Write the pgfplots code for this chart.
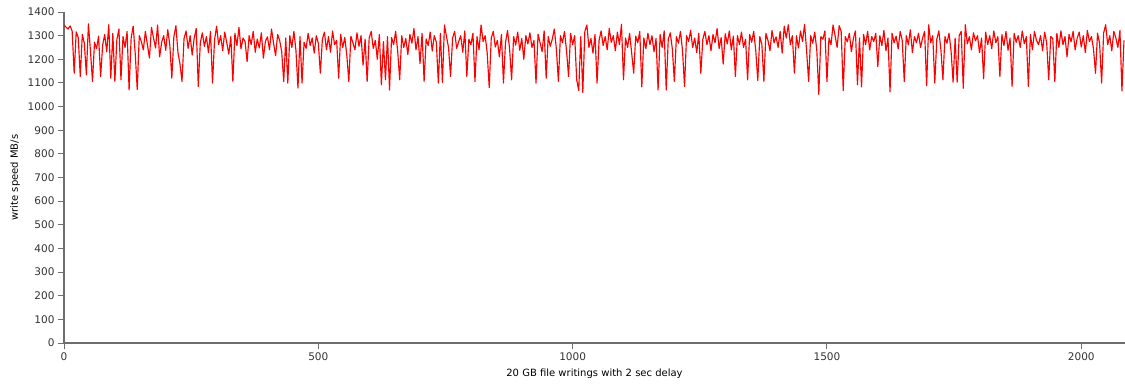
\documentclass[border=0pt]{standalone}
\usepackage{pgfplots}
\usepackage{pgfplotstable}
\pgfplotsset{compat=1.18}
\usepackage{fontspec}
\setmainfont{DejaVu Sans}
\definecolor{axgray}{HTML}{6E6E6E}
\definecolor{lblgray}{HTML}{333333}
\pgfplotstableread[row sep=\\]{
y\\
1345\\ 1336\\ 1328\\ 1341\\ 1320\\ 1141\\ 1316\\ 1292\\ 1127\\ 1305\\
1268\\ 1134\\ 1350\\ 1236\\ 1106\\ 1272\\ 1245\\ 1298\\ 1127\\ 1260\\
1305\\ 1232\\ 1346\\ 1120\\ 1310\\ 1106\\ 1285\\ 1328\\ 1113\\ 1296\\
1250\\ 1318\\ 1070\\ 1290\\ 1340\\ 1225\\ 1072\\ 1300\\ 1275\\ 1240\\
1318\\ 1262\\ 1205\\ 1335\\ 1290\\ 1248\\ 1345\\ 1210\\ 1272\\ 1300\\
1238\\ 1325\\ 1260\\ 1120\\ 1295\\ 1342\\ 1230\\ 1180\\ 1106\\ 1288\\
1320\\ 1246\\ 1300\\ 1218\\ 1290\\ 1330\\ 1085\\ 1270\\ 1312\\ 1255\\
1296\\ 1228\\ 1318\\ 1099\\ 1282\\ 1340\\ 1262\\ 1300\\ 1236\\ 1315\\
1270\\ 1222\\ 1296\\ 1106\\ 1310\\ 1258\\ 1335\\ 1244\\ 1290\\ 1275\\
1190\\ 1300\\ 1262\\ 1318\\ 1230\\ 1286\\ 1248\\ 1312\\ 1205\\ 1276\\
1295\\ 1240\\ 1328\\ 1268\\ 1215\\ 1305\\ 1280\\ 1232\\ 1106\\ 1290\\
1099\\ 1300\\ 1250\\ 1318\\ 1238\\ 1078\\ 1296\\ 1099\\ 1272\\ 1246\\
1310\\ 1258\\ 1290\\ 1226\\ 1300\\ 1268\\ 1141\\ 1285\\ 1315\\ 1240\\
1296\\ 1230\\ 1320\\ 1262\\ 1280\\ 1120\\ 1305\\ 1250\\ 1292\\ 1218\\
1106\\ 1298\\ 1270\\ 1240\\ 1312\\ 1255\\ 1300\\ 1175\\ 1285\\ 1106\\
1290\\ 1318\\ 1246\\ 1280\\ 1200\\ 1305\\ 1092\\ 1275\\ 1113\\ 1296\\
1070\\ 1292\\ 1262\\ 1318\\ 1236\\ 1113\\ 1300\\ 1250\\ 1288\\ 1220\\
1305\\ 1268\\ 1330\\ 1240\\ 1296\\ 1182\\ 1310\\ 1106\\ 1286\\ 1258\\
1315\\ 1235\\ 1300\\ 1272\\ 1099\\ 1310\\ 1102\\ 1345\\ 1296\\ 1250\\
1127\\ 1290\\ 1318\\ 1246\\ 1275\\ 1300\\ 1230\\ 1320\\ 1127\\ 1285\\
1262\\ 1310\\ 1106\\ 1296\\ 1240\\ 1345\\ 1275\\ 1300\\ 1228\\ 1080\\
1290\\ 1318\\ 1252\\ 1280\\ 1210\\ 1305\\ 1099\\ 1270\\ 1322\\ 1246\\
1113\\ 1296\\ 1260\\ 1315\\ 1238\\ 1288\\ 1200\\ 1300\\ 1265\\ 1312\\
1250\\ 1280\\ 1099\\ 1306\\ 1270\\ 1232\\ 1320\\ 1120\\ 1296\\ 1255\\
1285\\ 1328\\ 1244\\ 1106\\ 1300\\ 1270\\ 1318\\ 1236\\ 1127\\ 1310\\
1262\\ 1300\\ 1113\\ 1068\\ 1296\\ 1060\\ 1318\\ 1345\\ 1250\\ 1288\\
1226\\ 1305\\ 1099\\ 1280\\ 1320\\ 1258\\ 1296\\ 1240\\ 1330\\ 1272\\
1300\\ 1236\\ 1315\\ 1262\\ 1348\\ 1113\\ 1290\\ 1250\\ 1310\\ 1228\\
1141\\ 1298\\ 1270\\ 1318\\ 1083\\ 1290\\ 1245\\ 1310\\ 1262\\ 1300\\
1232\\ 1288\\ 1070\\ 1305\\ 1250\\ 1320\\ 1070\\ 1285\\ 1312\\ 1244\\
1106\\ 1296\\ 1268\\ 1318\\ 1238\\ 1085\\ 1300\\ 1275\\ 1322\\ 1250\\
1290\\ 1228\\ 1310\\ 1141\\ 1285\\ 1318\\ 1262\\ 1300\\ 1236\\ 1305\\
1270\\ 1330\\ 1245\\ 1292\\ 1180\\ 1308\\ 1265\\ 1320\\ 1240\\ 1298\\
1127\\ 1300\\ 1262\\ 1315\\ 1250\\ 1285\\ 1113\\ 1305\\ 1272\\ 1318\\
1238\\ 1110\\ 1296\\ 1264\\ 1106\\ 1310\\ 1280\\ 1236\\ 1322\\ 1270\\
1295\\ 1250\\ 1318\\ 1226\\ 1340\\ 1290\\ 1346\\ 1262\\ 1300\\ 1141\\
1300\\ 1248\\ 1320\\ 1275\\ 1348\\ 1236\\ 1106\\ 1300\\ 1268\\ 1315\\
1240\\ 1052\\ 1296\\ 1285\\ 1320\\ 1106\\ 1290\\ 1262\\ 1345\\ 1300\\
1250\\ 1342\\ 1318\\ 1068\\ 1296\\ 1274\\ 1310\\ 1232\\ 1288\\ 1320\\
1092\\ 1290\\ 1083\\ 1305\\ 1262\\ 1318\\ 1240\\ 1296\\ 1275\\ 1310\\
1169\\ 1300\\ 1258\\ 1322\\ 1236\\ 1290\\ 1062\\ 1310\\ 1270\\ 1298\\
1244\\ 1318\\ 1280\\ 1106\\ 1300\\ 1262\\ 1325\\ 1228\\ 1296\\ 1270\\
1310\\ 1250\\ 1290\\ 1318\\ 1088\\ 1346\\ 1270\\ 1300\\ 1099\\ 1285\\
1320\\ 1242\\ 1113\\ 1296\\ 1268\\ 1310\\ 1236\\ 1103\\ 1290\\ 1103\\
1300\\ 1318\\ 1077\\ 1346\\ 1265\\ 1296\\ 1240\\ 1312\\ 1278\\ 1300\\
1228\\ 1290\\ 1117\\ 1315\\ 1262\\ 1300\\ 1245\\ 1320\\ 1270\\ 1296\\
1127\\ 1305\\ 1258\\ 1318\\ 1238\\ 1290\\ 1085\\ 1310\\ 1272\\ 1300\\
1250\\ 1320\\ 1266\\ 1296\\ 1085\\ 1305\\ 1240\\ 1318\\ 1280\\ 1262\\
1300\\ 1236\\ 1315\\ 1270\\ 1113\\ 1296\\ 1288\\ 1106\\ 1310\\ 1250\\
1320\\ 1262\\ 1296\\ 1210\\ 1305\\ 1274\\ 1318\\ 1240\\ 1290\\ 1315\\
1252\\ 1300\\ 1228\\ 1322\\ 1275\\ 1296\\ 1245\\ 1141\\ 1310\\ 1268\\
1099\\ 1312\\ 1346\\ 1262\\ 1300\\ 1236\\ 1318\\ 1290\\ 1250\\ 1322\\
1066\\ 1280\\
}\speed
\begin{document}
\begin{tikzpicture}
\begin{axis}[
  scale only axis, width=1061pt, height=331pt,
  xmin=0, xmax=2086, ymin=0, ymax=1400,
  axis x line*=bottom, axis y line*=left,
  axis line style={-, axgray, line width=1.6pt},
  xtick={0,500,...,2000}, ytick={0,100,...,1400},
  tick align=outside, major tick length=6pt,
  tick style={axgray, line width=1pt},
  ticklabel style={font=\fontsize{10.5}{12}\selectfont, text=lblgray},
  /pgf/number format/assume math mode=true,
  /pgf/number format/1000 sep={},
  xlabel={20 GB file writings with 2 sec delay},
  ylabel={write speed MB/s},
  xlabel style={yshift=-2pt},
  ylabel style={yshift=1pt},
  label style={font=\fontsize{10}{12}\selectfont, text=black},
]
\addplot[red, line width=1.15pt, line join=round] table[x expr=\coordindex*4, y index=0] {\speed};
\end{axis}
\pgfresetboundingbox
\path[use as bounding box] (current axis.south west) ++(-64pt,-43pt) rectangle ([yshift=12pt]current axis.north east);
\end{tikzpicture}
\end{document}
